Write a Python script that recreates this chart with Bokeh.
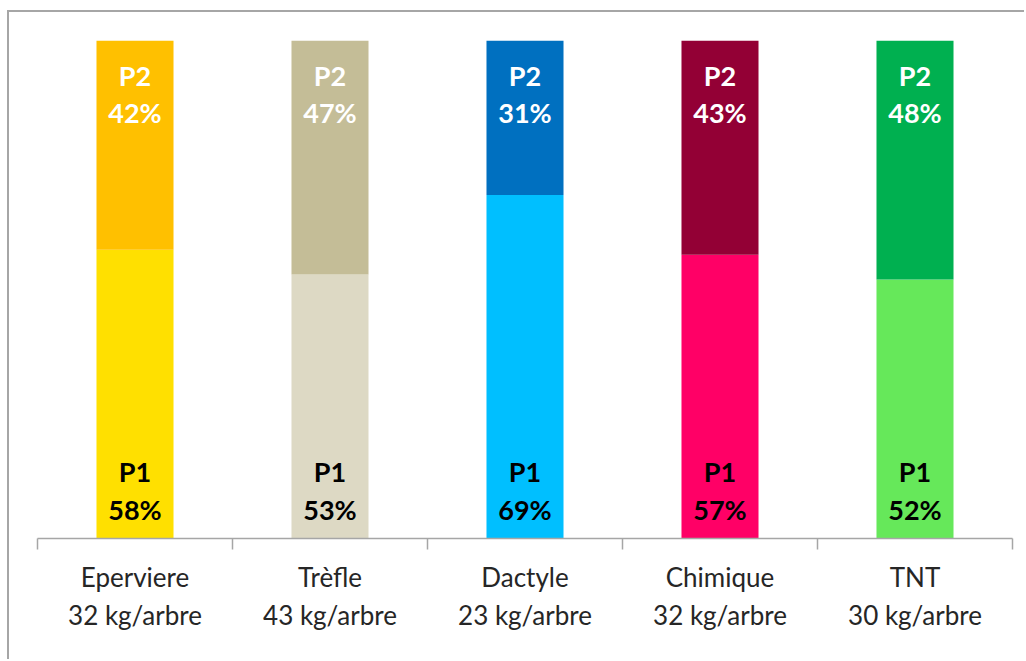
from bokeh.plotting import figure
from bokeh.models import ColumnDataSource, Range1d, FixedTicker
from bokeh.core.properties import value
from bokeh.embed import file_html
from bokeh.resources import INLINE

# Share of the harvest by picking (P1 / P2) for each ground cover treatment
categories = ["Eperviere", "Trèfle", "Dactyle", "Chimique", "TNT"]
yield_kg = [32, 43, 23, 32, 30]
p1_pct = [58, 53, 69, 57, 52]
p2_pct = [42, 47, 31, 43, 48]

p1_colors = ["#FFE000", "#DDD9C4", "#00BFFF", "#FF0066", "#66E85A"]
p2_colors = ["#FFC000", "#C4BD97", "#0070C0", "#930035", "#00B050"]

centers = [i + 0.5 for i in range(len(categories))]
tick_labels = [f"{c}\n{k} kg/arbre" for c, k in zip(categories, yield_kg)]

src = ColumnDataSource(dict(
    x=centers,
    p1=p1_pct,
    total=[a + b for a, b in zip(p1_pct, p2_pct)],
    p1_color=p1_colors,
    p2_color=p2_colors,
    p1_txt=[f"{v}%" for v in p1_pct],
    p2_txt=[f"{v}%" for v in p2_pct],
    p1_name=["P1"] * len(categories),
    p2_name=["P2"] * len(categories),
    zero=[0] * len(categories),
))

p = figure(
    width=1017, height=649,
    x_range=Range1d(0, len(categories)), y_range=Range1d(0, 100),
    y_axis_location=None,
    output_backend="svg", toolbar_location=None,
    min_border_left=28, min_border_right=14,
    min_border_top=28, min_border_bottom=123,
)
p.styles = {
    "margin-left": "7px", "margin-top": "10px",
    "border-left": "2px solid #A6A6A6", "border-top": "2px solid #A6A6A6",
}
p.outline_line_color = None
p.xgrid.visible = False
p.ygrid.visible = False
p.background_fill_color = "white"
p.border_fill_color = "white"

bw = 0.395
p.vbar(x="x", bottom="zero", top="p1", width=bw, fill_color="p1_color",
       line_color=None, source=src)
p.vbar(x="x", bottom="p1", top="total", width=bw, fill_color="p2_color",
       line_color=None, source=src)

font = value("Lato")
common = dict(x="x", text_font=font, text_font_style="bold",
              text_font_size="27px", text_align="center",
              text_baseline="middle", source=src)
p.text(y="total", text="p2_name", y_offset=35, text_color="white", **common)
p.text(y="total", text="p2_txt", y_offset=72, text_color="white", **common)
p.text(y="zero", text="p1_name", y_offset=-67, text_color="black", **common)
p.text(y="zero", text="p1_txt", y_offset=-29, text_color="black", **common)

ax = p.xaxis[0]
ax.ticker = FixedTicker(ticks=centers,
                        minor_ticks=list(range(len(categories) + 1)))
ax.major_label_overrides = {c: t for c, t in zip(centers, tick_labels)}
ax.major_tick_line_color = None
ax.minor_tick_in = 0
ax.minor_tick_out = 11
ax.minor_tick_line_color = "#A6A6A6"
ax.minor_tick_line_width = 1.5
ax.axis_line_color = "#A6A6A6"
ax.axis_line_width = 1.5
ax.major_label_text_font = "Lato"
ax.major_label_text_font_size = "26px"
ax.major_label_text_color = "#262626"
ax.major_label_standoff = 11

open("out.html", "w").write(file_html(p, INLINE))
